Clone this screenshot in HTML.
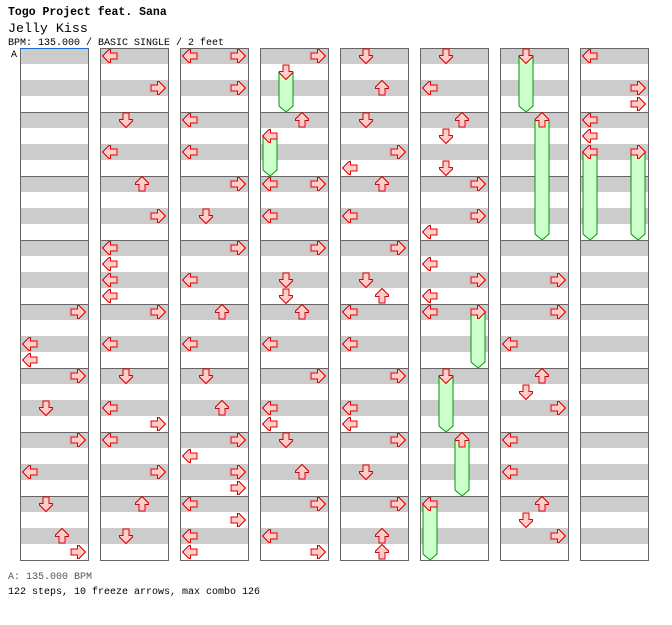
<!DOCTYPE html>
<html><head><meta charset="utf-8"><style>
html,body{margin:0;padding:0;background:#fff;}
svg text{font-family:"Liberation Mono",monospace;}
</style></head><body>
<svg id="chart" width="672" height="620" viewBox="0 0 672 620" xmlns="http://www.w3.org/2000/svg">
<text x="8" y="15" font-size="11.5" font-weight="bold">Togo Project feat. Sana</text>
<text x="8" y="32" font-size="13.3">Jelly Kiss</text>
<text x="8" y="45" font-size="10">BPM: 135.000 / BASIC SINGLE / 2 feet</text>
<text x="8" y="579" font-size="10" fill="#555">A: 135.000 BPM</text>
<text x="8" y="594" font-size="10">122 steps, 10 freeze arrows, max combo 126</text>
<g id="cols"></g><g id="marks"></g>
<text x="11" y="57" font-size="10">A</text>
<line x1="20" y1="48.5" x2="88" y2="48.5" stroke="#1a6fd6" stroke-width="1"/>
</svg>
<script>
const laneNames = ['left','down','up','right'];
const notes = [
[4,0,3],[4,4,0],[4,6,0],[5,0,3],[5,4,1],[6,0,3],[6,4,0],[7,0,1],[7,4,2],[7,6,3],
[8,0,0],[8,4,3],[9,0,1],[9,4,0],[10,0,2],[10,4,3],[11,0,0],[11,2,0],[11,4,0],[11,6,0],
[12,0,3],[12,4,0],[13,0,1],[13,4,0],[13,6,3],[14,0,0],[14,4,3],[15,0,2],[15,4,1],
[16,0,0],[16,0,3],[16,4,3],[17,0,0],[17,4,0],[18,0,3],[18,4,1],[19,0,3],[19,4,0],
[20,0,2],[20,4,0],[21,0,1],[21,4,2],[22,0,3],[22,2,0],[22,4,3],[22,6,3],[23,0,0],[23,2,3],[23,4,0],[23,6,0],
[24,0,3],[25,0,2],[26,0,0],[26,0,3],[26,4,0],[27,0,3],[27,4,1],[27,6,1],[28,0,2],[28,4,0],
[29,0,3],[29,4,0],[29,6,0],[30,0,1],[30,4,2],[31,0,3],[31,4,0],[31,6,3],
[32,0,1],[32,4,2],[33,0,1],[33,4,3],[33,6,0],[34,0,2],[34,4,0],[35,0,3],[35,4,1],[35,6,2],
[36,0,0],[36,4,0],[37,0,3],[37,4,0],[37,6,0],[38,0,3],[38,4,1],[39,0,3],[39,4,2],[39,6,2],
[40,0,1],[40,4,0],[41,0,2],[41,2,1],[41,6,1],[42,0,3],[42,4,3],[42,6,0],[43,2,0],[43,4,3],[43,6,0],
[44,0,0],[51,4,3],[52,0,3],[52,4,0],[53,0,2],[53,2,1],[53,4,3],[54,0,0],[54,4,0],[55,0,2],[55,2,1],[55,4,3],
[56,0,0],[56,4,3],[56,6,3],[57,0,0],[57,2,0]
];
const freezes = [
[24,2,1,6],[25,2,0,6],[44,0,3,8],[45,0,1,8],[46,0,2,8],[47,0,0,8],[48,0,1,8],[49,0,2,16],[57,4,0,12],[57,4,3,12]
];
const NS='http://www.w3.org/2000/svg';
const colsG=document.getElementById('cols'), marksG=document.getElementById('marks');
function mk(tag,attrs,parent){const e=document.createElementNS(NS,tag);for(const k in attrs)e.setAttribute(k,attrs[k]);parent.appendChild(e);return e;}
function colX(m){return 20+80*Math.floor(m/8);}
function rowY(m,p){return 48+(m%8)*64+p*8;}
function laneX(m,l){return colX(m)+10+16*l;}
for(let c=0;c<8;c++){
  const x=20+80*c;
  const g=mk('g',{},colsG);
  
  
  mk('rect',{x:x,y:48,width:68,height:512,fill:'#fff'},g);
  for(let m=0;m<8;m++){
    const y=48+m*64;
    mk('rect',{x:x,y:y,width:68,height:16,fill:'#cccccc'},g);
    mk('rect',{x:x,y:y+32,width:68,height:16,fill:'#cccccc'},g);
    if(m>0){const ln=mk('line',{x1:x,y1:y+0.5,x2:x+68,y2:y+0.5,stroke:'#666',"stroke-width":1},g);
      
      }
  }
  mk('rect',{x:x+0.5,y:48.5,width:68,height:512,fill:'none',stroke:'#666',"stroke-width":1},g);
}
const rot=[0,-90,90,180];
function arrow(m,p,l){
  const x=laneX(m,l)-8, y=rowY(m,p);
  const g=mk('g',{transform:'translate('+x+','+y+') rotate('+rot[l]+' 8 8)'},marksG);
  
  
  mk('polygon',{points:'0.5,8 7,1.5 8.5,1.5 8.5,5 15,5 15,11 8.5,11 8.5,14.5 7,14.5',fill:'#ffcccc',stroke:'#dd0000',"stroke-width":1,"shape-rendering":"crispEdges"},g);
}
freezes.forEach(f=>{
  const [m,p,l,len]=f;
  const cx=laneX(m,l), y0=rowY(m,p)+8, tip=rowY(m,p)+len*8;
  const body=mk('polygon',{points:(cx-7)+','+y0+' '+(cx+7)+','+y0+' '+(cx+7)+','+(tip-6)+' '+cx+','+tip+' '+(cx-7)+','+(tip-6),fill:'#ccffcc',stroke:'#009900',"stroke-width":1},marksG);
  
  
});
notes.forEach(n=>arrow(n[0],n[1],n[2]));
freezes.forEach(f=>arrow(f[0],f[1],f[2]));
</script>
</body></html>
